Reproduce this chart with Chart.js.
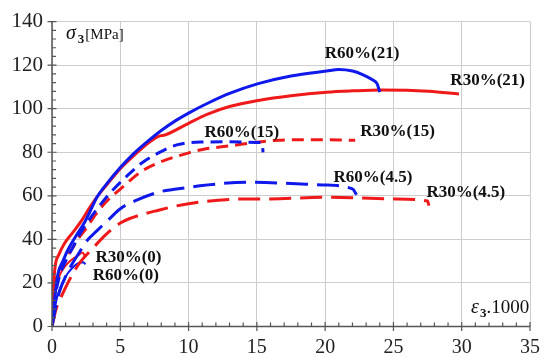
<!DOCTYPE html>
<html>
<head>
<meta charset="utf-8">
<script src="https://cdn.jsdelivr.net/npm/chart.js@4/dist/chart.umd.min.js"></script>
<style>
  html, body { margin: 0; padding: 0; background: #fff; }
  canvas { display: block; }
</style>
</head>
<body>
<canvas id="chart" width="549" height="358"></canvas>
<script>
// strain (eps3 x 1000) and stress (sigma3, MPa)
const r60_21_x = [0, 0.19, 0.43, 0.8, 1.15, 1.7, 2.4, 2.8, 3.3, 4, 5, 6, 7, 8, 9, 10, 11.4, 13, 15.1, 17.5, 20.1, 21, 22, 22.7, 23.4, 23.8, 24];
const r60_21_y = [0, 12, 24, 30, 35, 41, 48, 53, 59.5, 65.5, 73, 79.5, 85, 90, 94.3, 98, 102.5, 107, 111.5, 115, 117.3, 118, 117.3, 115.8, 113.5, 111.5, 107.6];

const r30_21_x = [0, 0.05, 0.1, 0.24, 0.5, 0.9, 1.5, 2.1, 2.7, 3.3, 4, 5, 6, 7, 7.8, 8.3, 10, 11.4, 13, 15.1, 17.5, 20.1, 22, 24.1, 26, 27.6, 29.8];
const r30_21_y = [0, 10, 18, 28, 33, 38, 43, 48, 54, 59.5, 65, 72.5, 78.5, 84, 87.3, 88, 93.3, 97.5, 101, 103.8, 106, 107.6, 108.2, 108.6, 108.5, 108, 106.8];

const r60_15_x = [0, 0.2, 0.5, 1, 1.5, 2, 2.5, 3, 3.5, 4, 5, 6, 6.6, 7.8, 9.2, 10.9, 13, 15, 15.4, 15.45];
const r60_15_y = [0, 12, 22, 30, 36, 42, 47, 51.5, 55.6, 59.5, 66.2, 72, 75.2, 79.7, 83.5, 84.7, 84.8, 84.5, 84.3, 80];

const r30_15_x = [0, 0.1, 0.3, 0.6, 1, 1.5, 2, 2.5, 3.2, 4, 5, 6.6, 7.8, 10, 11.2, 13.1, 15, 16.5, 19, 22.2];
const r30_15_y = [0, 14, 22, 27, 31, 36, 41, 45, 51.5, 57.5, 63.1, 71.4, 75.2, 79.7, 81.5, 83, 84.6, 85.5, 85.8, 85.5];

const r60_45_x = [0, 0.3, 0.6, 1, 1.5, 2, 2.5, 3.3, 4.3, 5, 6.2, 7.8, 10, 11.2, 14.3, 16.7, 19.8, 22, 22.3];
const r60_45_y = [0, 10, 17, 23, 29, 34, 39, 44, 50, 54.1, 58, 61.7, 63.9, 64.9, 66.2, 65.9, 65, 63.2, 60.5];

const r30_45_x = [0, 0.3, 0.7, 1, 1.5, 2, 3, 4, 5, 5.7, 7.8, 10, 14.3, 16, 20, 25.1, 27.5, 27.6];
const r30_45_y = [0, 8, 14, 18, 24, 29, 36, 42.5, 47.5, 49.6, 53.4, 56.4, 58.6, 58.6, 59.4, 58.6, 57.6, 55.5];

const r30_0_x = [0, 0.1, 0.3, 0.6, 1, 1.5, 2, 2.2, 2.35, 2.4];
const r30_0_y = [0, 10, 18, 24, 28, 31, 33, 34, 33, 31.5];

const r60_0_x = [0, 0.2, 0.4, 0.7, 1, 1.5, 2, 2.3, 2.45];
const r60_0_y = [0, 8, 14, 19, 23, 27, 29.3, 29.5, 28.5];

const xTicks = [0, 5, 10, 15, 20, 25, 30, 35];
const yTicks = [0, 20, 40, 60, 80, 100, 120, 140];

const curveNames = ['R60%(21)', 'R30%(21)', 'R60%(15)', 'R30%(15)', 'R60%(4.5)', 'R30%(4.5)', 'R30%(0)', 'R60%(0)'];

const blue = 'rgb(15,25,235)';
const red = 'rgb(240,25,25)';
const serif = '"Liberation Serif", "Times New Roman", Tinos, Times, serif';

function pts(xs, ys) {
  return xs.map((x, i) => ({ x: x, y: ys[i] }));
}

function curve(label, xs, ys, color, dash, width) {
  return {
    label: label,
    data: pts(xs, ys),
    showLine: true,
    borderColor: color,
    backgroundColor: color,
    borderWidth: width || 3,
    borderDash: dash || [],
    borderCapStyle: 'butt',
    pointRadius: 0,
    cubicInterpolationMode: 'monotone'
  };
}

// label positions in data units (where each curve name sits)
const labelPos = [
  [22.7, 125.3], [31.9, 112.7], [13.9, 88.8], [25.3, 89.7],
  [23.5, 68.4], [30.3, 61.7], [5.6, 31.8], [5.4, 23.3]
];

const axisDecor = {
  id: 'axisDecor',
  afterDraw(chart) {
    const ctx = chart.ctx;
    const xs = chart.scales.x;
    const ys = chart.scales.y;
    const x0 = xs.getPixelForValue(0);
    const y0 = ys.getPixelForValue(0);
    ctx.save();
    ctx.strokeStyle = '#555';
    ctx.lineWidth = 1.5;
    ctx.beginPath();
    ctx.moveTo(xs.left, y0); ctx.lineTo(xs.right, y0);
    ctx.moveTo(x0, ys.top); ctx.lineTo(x0, ys.bottom);
    ctx.stroke();
    ctx.lineWidth = 1.2;
    ctx.beginPath();
    for (let v = 0; v <= 35; v++) {
      const p = xs.getPixelForValue(v);
      if (v % 5 === 0) { ctx.moveTo(p, y0 - 4.5); ctx.lineTo(p, y0 + 4.5); }
      else { ctx.moveTo(p, y0 - 4); ctx.lineTo(p, y0); }
    }
    for (let v = 0; v <= 140; v += 4) {
      const p = ys.getPixelForValue(v);
      if (v % 20 === 0) { ctx.moveTo(x0 - 4.5, p); ctx.lineTo(x0 + 4.5, p); }
      else { ctx.moveTo(x0, p); ctx.lineTo(x0 + 4, p); }
    }
    ctx.stroke();

    // curve names
    ctx.fillStyle = '#111';
    ctx.font = 'bold 17px ' + serif;
    ctx.textAlign = 'center';
    ctx.textBaseline = 'middle';
    curveNames.forEach((t, i) => {
      ctx.fillText(t, xs.getPixelForValue(labelPos[i][0]), ys.getPixelForValue(labelPos[i][1]));
    });

    // axis titles
    ctx.textAlign = 'left';
    ctx.textBaseline = 'alphabetic';
    let px = 66, py = 39;
    ctx.font = 'italic 20px ' + serif;
    ctx.fillText('\u03C3', px, py);
    px += ctx.measureText('\u03C3').width + 2;
    ctx.font = 'bold 13px ' + serif;
    ctx.fillText('3', px, py + 4);
    px += ctx.measureText('3').width + 1;
    ctx.font = '15px ' + serif;
    ctx.fillText('[MPa]', px, py);

    px = 471; py = 313;
    ctx.font = 'italic 20px ' + serif;
    ctx.fillText('\u03B5', px, py);
    px += ctx.measureText('\u03B5').width + 1;
    ctx.font = 'bold 13px ' + serif;
    ctx.fillText('3', px, py + 4);
    px += ctx.measureText('3').width;
    ctx.font = '19px ' + serif;
    ctx.fillText('.1000', px, py);
    ctx.restore();
  }
};

new Chart(document.getElementById('chart'), {
  type: 'scatter',
  data: {
    datasets: [
      curve(curveNames[0], r60_21_x, r60_21_y, blue),
      curve(curveNames[1], r30_21_x, r30_21_y, red),
      curve(curveNames[2], r60_15_x, r60_15_y, blue, [12, 7]),
      curve(curveNames[3], r30_15_x, r30_15_y, red, [12, 7]),
      curve(curveNames[4], r60_45_x, r60_45_y, blue, [22, 9]),
      curve(curveNames[5], r30_45_x, r30_45_y, red, [22, 9]),
      curve(curveNames[6], r30_0_x, r30_0_y, red, [], 2),
      curve(curveNames[7], r60_0_x, r60_0_y, blue, [], 2)
    ]
  },
  options: {
    responsive: false,
    animation: false,
    devicePixelRatio: 1,
    layout: { padding: { left: 0, right: 12, top: 16, bottom: 0 } },
    scales: {
      x: {
        type: 'linear', min: 0, max: 35,
        afterBuildTicks: s => { s.ticks = xTicks.map(v => ({ value: v })); },
        afterFit: s => { s.height = 31.5; },
        grid: { color: '#cdcdcd', lineWidth: 1, drawTicks: false },
        border: { display: false },
        ticks: { color: '#222', padding: 9, font: { family: serif, size: 20 } }
      },
      y: {
        type: 'linear', min: 0, max: 140,
        afterBuildTicks: s => { s.ticks = yTicks.map(v => ({ value: v })); },
        afterFit: s => { s.width = 52; },
        grid: { color: '#cdcdcd', lineWidth: 1, drawTicks: false },
        border: { display: false },
        ticks: { color: '#222', padding: 9, font: { family: serif, size: 21 } }
      }
    },
    plugins: {
      legend: { display: false },
      tooltip: { enabled: false }
    }
  },
  plugins: [axisDecor]
});
</script>
</body>
</html>
